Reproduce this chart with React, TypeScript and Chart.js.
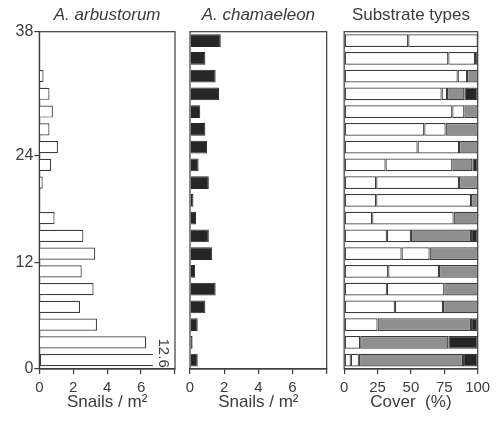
import React, { useEffect, useRef } from 'react';
import { Chart, registerables } from 'chart.js';

Chart.register(...registerables);

// ---- data ----
const POSITIONS = [1, 3, 5, 7, 9, 11, 13, 15, 17, 19, 21, 23, 25, 27, 29, 31, 33, 35, 37];
const ARBUSTORUM = [12.6, 6.3, 3.4, 2.4, 3.2, 2.5, 3.3, 2.6, 0.9, 0, 0.2, 0.7, 1.1, 0.6, 0.8, 0.6, 0.25, 0, 0];
const CHAMAELEON = [0.45, 0.15, 0.45, 0.9, 1.5, 0.3, 1.3, 1.1, 0.35, 0.2, 1.1, 0.5, 1.0, 0.9, 0.6, 1.7, 1.5, 0.9, 1.8];
const SUB_WHITE_1 = [5, 12, 25, 38, 32, 33, 43, 32, 21, 24, 24, 31, 55, 60, 81, 73, 85, 78, 48];
const SUB_WHITE_2 = [6, 0, 0, 36, 43, 38, 21, 18, 61, 71, 62, 50, 31, 16, 9, 4, 7, 20, 52];
const SUB_GRAY = [78, 66, 70, 26, 25, 29, 36, 45, 18, 5, 14, 15, 14, 24, 10, 13, 8, 0, 0];
const SUB_BLACK = [11, 22, 5, 0, 0, 0, 0, 5, 0, 0, 0, 4, 0, 0, 0, 10, 0, 2, 0];

const Y_TICKS = [0, 12, 24, 38];
const SNAIL_TICKS = [0, 2, 4, 6, 8];
const SNAIL_TICK_LABELS = ['0', '2', '4', '6', ''];
const COVER_TICKS = [0, 25, 50, 75, 100];
const COVER_TICK_LABELS = ['0', '25', '50', '75', '100'];
const ARB_BREAK = 6.7; // axis break: bars above this are cut and labelled

const TITLES = ['A. arbustorum', 'A. chamaeleon', 'Substrate types'];
const X_TITLES = ['Snails / m\u00B2', 'Snails / m\u00B2', 'Cover  (%)'];

// ---- styles ----
const FONT = "'Liberation Sans', Arial, Helvetica, sans-serif";
const TEXT = '#3c3c3c';
const LINE = '#3c3c3c';
const H = 421;

const framePlugin = {
  id: 'frame',
  afterDatasetsDraw(chart: any) {
    const { ctx, chartArea: a } = chart;
    ctx.save();
    ctx.strokeStyle = LINE;
    ctx.lineWidth = 1.2;
    ctx.strokeRect(a.left, a.top, a.right - a.left, a.bottom - a.top);
    ctx.restore();
  },
};

const breakLabelPlugin = {
  id: 'breakLabel',
  afterDatasetsDraw(chart: any) {
    const { ctx } = chart;
    const meta = chart.getDatasetMeta(0);
    ARBUSTORUM.forEach((v, i) => {
      if (v > ARB_BREAK) {
        const el = meta.data[i];
        ctx.save();
        ctx.translate(el.x + 10, el.y - 7);
        ctx.rotate(Math.PI / 2);
        ctx.font = `15px ${FONT}`;
        ctx.fillStyle = TEXT;
        ctx.textAlign = 'center';
        ctx.textBaseline = 'middle';
        ctx.fillText(String(v), 0, 0);
        ctx.restore();
      }
    });
  },
};

function xScale(max: number, ticks: number[], labels: string[], title: string, stacked = false) {
  return {
    type: 'linear',
    min: 0,
    max,
    stacked,
    afterBuildTicks: (s: any) => {
      s.ticks = ticks.map((v) => ({ value: v }));
    },
    ticks: {
      callback: (_v: any, i: number) => labels[i],
      font: { family: FONT, size: 15 },
      color: TEXT,
      padding: 5,
      maxRotation: 0,
      autoSkip: false,
    },
    grid: { drawOnChartArea: false, drawTicks: true, tickLength: 5, color: LINE, lineWidth: 1.2 },
    border: { display: true, color: LINE, width: 1.2 },
    title: {
      display: true,
      text: title,
      font: { family: FONT, size: 17 },
      color: TEXT,
      padding: { top: 0, bottom: 8 },
    },
    afterFit: (s: any) => {
      s.height = 52;
    },
  };
}

function yHidden(stacked = false) {
  return { type: 'linear', min: 0, max: 38, display: false, offset: false, stacked, grid: { offset: false } };
}

function titleOpts(text: string, italic: boolean) {
  return {
    display: true,
    text,
    fullSize: false,
    font: { family: FONT, size: 17, style: italic ? 'italic' : 'normal', weight: 'normal' },
    color: TEXT,
    padding: { top: 5, bottom: 6.3 },
  };
}

function baseOptions(padding: any) {
  return {
    indexAxis: 'y',
    responsive: false,
    animation: false,
    devicePixelRatio: 1,
    layout: { padding },
    events: [],
  };
}

function makeArbustorum(): any {
  return {
    type: 'bar',
    data: {
      datasets: [
        {
          data: POSITIONS.map((p, i) => ({ x: Math.min(ARBUSTORUM[i], ARB_BREAK), y: p })),
          backgroundColor: '#ffffff',
          borderColor: LINE,
          borderWidth: 1.2,
          barPercentage: 0.85,
          borderSkipped: (c: any) => (ARBUSTORUM[c.dataIndex] > ARB_BREAK ? 'end' : 'start'),
        },
      ],
    },
    options: {
      ...baseOptions({ left: 0, right: 10, top: 0, bottom: 0 }),
      plugins: { legend: { display: false }, tooltip: { enabled: false }, title: titleOpts(TITLES[0], true) },
      scales: {
        x: xScale(8, SNAIL_TICKS, SNAIL_TICK_LABELS, X_TITLES[0]),
        y: {
          type: 'linear',
          min: 0,
          max: 38,
          offset: false,
          afterBuildTicks: (s: any) => {
            s.ticks = Y_TICKS.map((v) => ({ value: v }));
          },
          ticks: { font: { family: FONT, size: 16 }, color: TEXT, padding: 1, autoSkip: false },
          grid: { offset: false, drawOnChartArea: false, drawTicks: true, tickLength: 5, color: LINE, lineWidth: 1.2 },
          border: { display: true, color: LINE, width: 1.2 },
          afterFit: (s: any) => {
            s.width = 39.3;
          },
        },
      },
    },
    plugins: [framePlugin, breakLabelPlugin],
  };
}

function makeChamaeleon(): any {
  return {
    type: 'bar',
    data: {
      datasets: [
        {
          data: POSITIONS.map((p, i) => ({ x: CHAMAELEON[i], y: p })),
          backgroundColor: '#262626',
          borderColor: '#262626',
          borderWidth: 1,
        },
      ],
    },
    options: {
      ...baseOptions({ left: 10, right: 8.3, top: 0, bottom: 0 }),
      plugins: { legend: { display: false }, tooltip: { enabled: false }, title: titleOpts(TITLES[1], true) },
      scales: {
        x: xScale(8, SNAIL_TICKS, SNAIL_TICK_LABELS, X_TITLES[1]),
        y: yHidden(),
      },
    },
    plugins: [framePlugin],
  };
}

function makeSubstrate(): any {
  const seg = (vals: number[], color: string) => ({
    data: POSITIONS.map((p, i) => ({ x: vals[i], y: p })),
    backgroundColor: color,
    borderColor: LINE,
    borderWidth: 1.2,
    borderSkipped: false,
  });
  return {
    type: 'bar',
    data: {
      datasets: [
        seg(SUB_WHITE_1, '#ffffff'),
        seg(SUB_WHITE_2, '#ffffff'),
        seg(SUB_GRAY, '#8f8f8f'),
        seg(SUB_BLACK, '#262626'),
      ],
    },
    options: {
      ...baseOptions({ left: 7.3, right: 23.3, top: 0, bottom: 0 }),
      plugins: { legend: { display: false }, tooltip: { enabled: false }, title: titleOpts(TITLES[2], false) },
      scales: {
        x: xScale(100, COVER_TICKS, COVER_TICK_LABELS, X_TITLES[2], true),
        y: yHidden(true),
      },
    },
    plugins: [framePlugin],
  };
}

function Panel({ left, width, make }: { left: number; width: number; make: () => any }) {
  const ref = useRef<HTMLCanvasElement>(null);
  useEffect(() => {
    const chart = new Chart(ref.current as HTMLCanvasElement, make());
    return () => chart.destroy();
  }, [make]);
  return (
    <canvas
      ref={ref}
      width={width}
      height={H}
      style={{ position: 'absolute', left, top: 0, width, height: H, display: 'block' }}
    />
  );
}

export default function App() {
  return (
    <div style={{ position: 'absolute', left: 0, top: 0, width: 501, height: H, background: '#ffffff', overflow: 'hidden' }}>
      <Panel left={0} width={185} make={makeArbustorum} />
      <Panel left={180} width={155} make={makeChamaeleon} />
      <Panel left={335} width={166} make={makeSubstrate} />
    </div>
  );
}
